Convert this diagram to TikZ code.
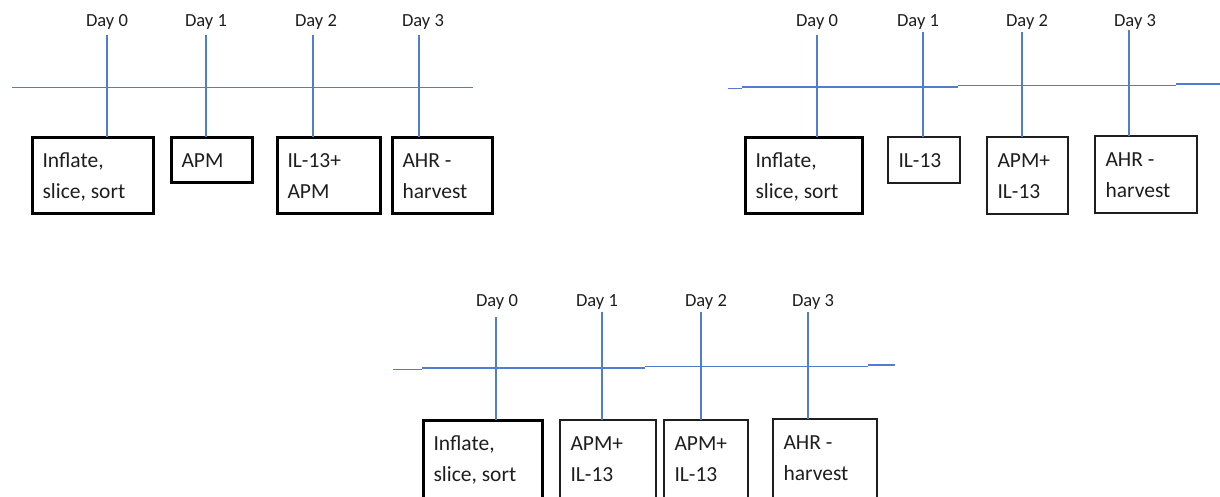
\documentclass[tikz,border=0pt]{standalone}
\usepackage{fontspec}
\setmainfont{Carlito}
\definecolor{tlblue}{RGB}{80,125,208}
\definecolor{ink}{RGB}{30,30,30}
\tikzset{
  tline/.style={draw=tlblue, line width=1.3pt},
  thickbox/.style={rectangle, draw=black, line width=3pt, outer sep=0pt, inner sep=0pt},
  thinbox/.style={rectangle, draw=ink, line width=1.4pt, outer sep=0pt, inner sep=0pt},
  txt/.style={inner sep=0pt, outer sep=0pt, align=left, text=ink, font=\fontsize{21.5}{31}\selectfont},
  daylbl/.style={inner sep=0pt, outer sep=0pt, text=ink, font=\fontsize{18.5}{20}\selectfont, anchor=base},
}
% #1 name, #2 style, #3 x, #4 y, #5 w, #6 h, #7 text
\newcommand\stagebox[7]{%
  \node[#2, minimum width=#5pt, minimum height=#6pt, anchor=north west] (#1) at (#3,#4) {};
  \node[txt, anchor=north west] (#1t) at ([shift={(10.5,14)}]#1.north west) {\rule{0pt}{16pt}#7};
}
\begin{document}
\begin{tikzpicture}[x=1pt,y=-1pt]
\useasboundingbox (0,0) rectangle (1220,496);
\clip (0,0) rectangle (1220,496);

% ---------- Panel 1 ----------
\stagebox{b10}{thickbox}{32}{137}{121}{76}{Inflate,\\slice, sort}
\stagebox{b11}{thickbox}{171}{137}{81}{45}{APM}
\stagebox{b12}{thickbox}{277}{137}{103}{76}{IL-13+\\APM}
\stagebox{b13}{thickbox}{392}{137}{100}{76}{AHR -\\harvest}

\coordinate (h1a) at (12,87.3);
\coordinate (h1b) at (473,87.3);
\draw[tline] (h1a) -- (h1b);

\coordinate (v10) at (107,35);
\coordinate (v11) at (206,35);
\coordinate (v12) at (313,35);
\coordinate (v13) at (419,35);
\draw[tline] (v10) -- (v10 |- b10.north);
\draw[tline] (v11) -- (v11 |- b11.north);
\draw[tline] (v12) -- (v12 |- b12.north);
\draw[tline] (v13) -- (v13 |- b13.north);

\node[daylbl] (d10) at (107,26) {Day 0};
\node[daylbl] (d11) at (206,26) {Day 1};
\node[daylbl] (d12) at (316,26) {Day 2};
\node[daylbl] (d13) at (423,26) {Day 3};

% ---------- Panel 2 ----------
\stagebox{b20}{thickbox}{745}{137}{117}{76}{Inflate,\\slice, sort}
\stagebox{b21}{thinbox}{888}{137}{72}{46}{IL-13}
\stagebox{b22}{thinbox}{987}{137}{81}{77}{APM+\\IL-13}
\stagebox{b23}{thinbox}{1095}{136}{102}{77}{AHR -\\harvest}

\coordinate (h2a) at (728,88.3);
\coordinate (h2b) at (742,88.3);
\coordinate (h2c) at (742,87);
\coordinate (h2d) at (958,87);
\coordinate (h2e) at (958,85.3);
\coordinate (h2f) at (1176,85.3);
\coordinate (h2g) at (1176,84);
\coordinate (h2h) at (1220,84);
\draw[tline] (h2a) -- (h2b);
\draw[tline] (h2c) -- (h2d);
\draw[tline] (h2e) -- (h2f);
\draw[tline] (h2g) -- (h2h);

\coordinate (v20) at (817,35);
\coordinate (v21) at (923,32);
\coordinate (v22) at (1022,32);
\coordinate (v23) at (1129,30);
\draw[tline] (v20) -- (v20 |- b20.north);
\draw[tline] (v21) -- (v21 |- b21.north);
\draw[tline] (v22) -- (v22 |- b22.north);
\draw[tline] (v23) -- (v23 |- b23.north);

\node[daylbl] (d20) at (817,26) {Day 0};
\node[daylbl] (d21) at (918,26) {Day 1};
\node[daylbl] (d22) at (1027,26) {Day 2};
\node[daylbl] (d23) at (1135,26) {Day 3};

% ---------- Panel 3 ----------
\stagebox{b30}{thickbox}{423}{420}{119}{95}{Inflate,\\slice, sort}
\stagebox{b31}{thinbox}{560}{420}{96}{95}{APM+\\IL-13}
\stagebox{b32}{thinbox}{664}{420}{84}{95}{APM+\\IL-13}
\stagebox{b33}{thinbox}{773}{419}{104}{96}{AHR -\\harvest}

\coordinate (h3a) at (393,369.5);
\coordinate (h3b) at (422,369.5);
\coordinate (h3c) at (422,368);
\coordinate (h3d) at (645,368);
\coordinate (h3e) at (645,366.5);
\coordinate (h3f) at (868,366.5);
\coordinate (h3g) at (868,365);
\coordinate (h3h) at (895,365);
\draw[tline] (h3a) -- (h3b);
\draw[tline] (h3c) -- (h3d);
\draw[tline] (h3e) -- (h3f);
\draw[tline] (h3g) -- (h3h);

\coordinate (v30) at (496,317);
\coordinate (v31) at (602,312);
\coordinate (v32) at (701,312);
\coordinate (v33) at (808,312);
\draw[tline] (v30) -- (v30 |- b30.north);
\draw[tline] (v31) -- (v31 |- b31.north);
\draw[tline] (v32) -- (v32 |- b32.north);
\draw[tline] (v33) -- (v33 |- b33.north);

\node[daylbl] (d30) at (497,306) {Day 0};
\node[daylbl] (d31) at (597,306) {Day 1};
\node[daylbl] (d32) at (706,306) {Day 2};
\node[daylbl] (d33) at (813,306) {Day 3};
\end{tikzpicture}
\end{document}
